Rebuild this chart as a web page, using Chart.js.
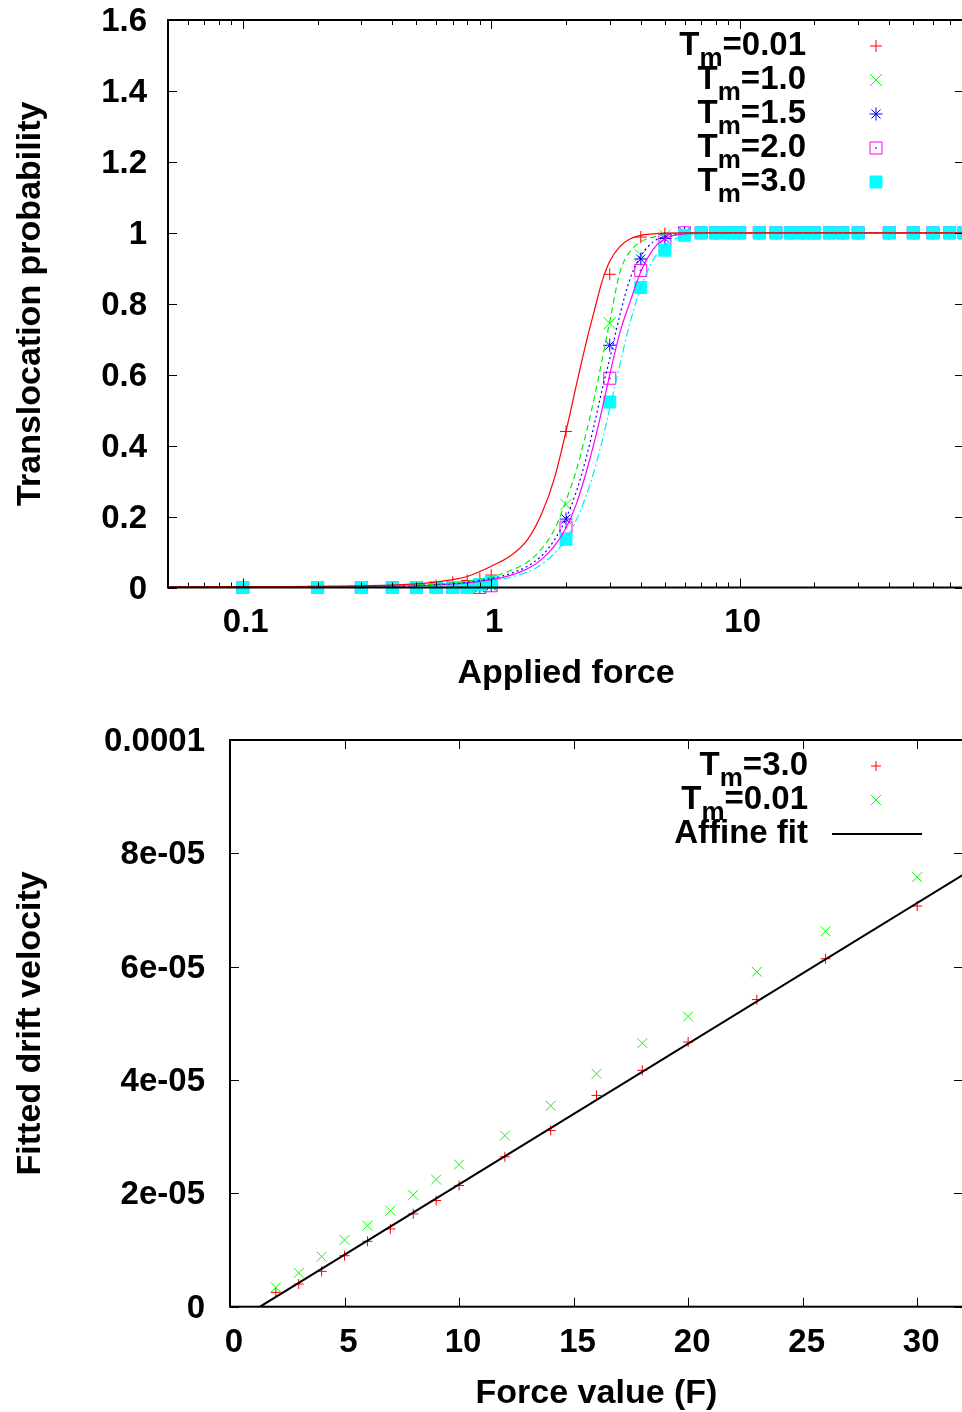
<!DOCTYPE html>
<html><head><meta charset="utf-8">
<script src="https://cdn.jsdelivr.net/npm/chart.js@4.4.0/dist/chart.umd.min.js"></script>
<style>
html,body{margin:0;padding:0;background:#fff;overflow:hidden;width:962px;height:1412px;position:relative;}
canvas{position:absolute;left:0;}
#c1{top:0;}
#c2{top:700px;}
</style></head><body>
<canvas id="c1" width="1000" height="700"></canvas>
<canvas id="c2" width="1000" height="712"></canvas>
<script>
// ---------------- DATA (top panel) ----------------
const forceTop = [0.1,0.2,0.3,0.4,0.5,0.6,0.7,0.8,0.9,1,2,3,4,5,6,7,8,9,10,12,14,16,18,20,23,26,30,40,50,60,70,80];
const probTm001 = [0,0,0,0,0,0.005,0.015,0.02,0.025,0.035,0.44,0.883,0.988,0.998,1,1,1,1,1,1,1,1,1,1,1,1,1,1,1,1,1,1];
const probTm10  = [0,0,0,0,0,0,0,0,0,0.01,0.234,0.745,0.937,0.993,1,1,1,1,1,1,1,1,1,1,1,1,1,1,1,1,1,1];
const probTm15  = [0,0,0,0,0,0,0,0,0,0.005,0.193,0.683,0.926,0.984,1,1,1,1,1,1,1,1,1,1,1,1,1,1,1,1,1,1];
const probTm20  = [0,0,0,0,0,0,0,0,0,0.005,0.17,0.59,0.894,0.979,1,1,1,1,1,1,1,1,1,1,1,1,1,1,1,1,1,1];
const probTm30  = [0,0,0,0,0,0,0,0,0.008,0.015,0.136,0.523,0.846,0.951,0.993,1,1,1,1,1,1,1,1,1,1,1,1,1,1,1,1,1];
const tmLabelsTop = ['0.01','1.0','1.5','2.0','3.0'];

// fitted curves
const curveForce = [0.05,0.3,0.5,0.7,0.8,1.0,1.2,1.4,1.6,1.8,2.0,2.2,2.4,2.6,2.8,3.0,3.3,3.6,4.0,4.5,5.0,6.0,8.0,80];
const fitTm001 = [0.002,0.005,0.01,0.022,0.031,0.06,0.09,0.135,0.21,0.31,0.44,0.57,0.685,0.78,0.865,0.92,0.962,0.982,0.993,0.997,0.999,1,1,1];
const fitTm10  = [0.002,0.004,0.007,0.013,0.018,0.03,0.048,0.072,0.11,0.165,0.245,0.33,0.43,0.535,0.645,0.75,0.89,0.945,0.975,0.988,0.995,0.999,1,1];
const fitTm15  = [0.002,0.003,0.006,0.011,0.015,0.025,0.04,0.06,0.09,0.135,0.195,0.27,0.36,0.46,0.56,0.645,0.77,0.865,0.935,0.975,0.99,0.998,1,1];
const fitTm20  = [0.002,0.003,0.005,0.01,0.013,0.022,0.035,0.053,0.08,0.118,0.168,0.235,0.32,0.41,0.505,0.6,0.72,0.8,0.89,0.955,0.983,0.997,1,1];
const fitTm30  = [0.002,0.003,0.004,0.008,0.011,0.018,0.029,0.044,0.066,0.097,0.137,0.19,0.255,0.33,0.415,0.505,0.63,0.74,0.845,0.925,0.965,0.992,1,1];

const xTopTicks = [0.1,1,10];
const xTopMinor = [0.05,0.06,0.07,0.08,0.09,0.2,0.3,0.4,0.5,0.6,0.7,0.8,0.9,2,3,4,5,6,7,8,9,20,30,40,50,60,70,80];
const yTopTicks = [0,0.2,0.4,0.6,0.8,1,1.2,1.4,1.6];
const yTopLabels = ['0','0.2','0.4','0.6','0.8','1','1.2','1.4','1.6'];

// ---------------- DATA (bottom panel) ----------------
const forceBottom = [2,3,4,5,6,7,8,9,10,12,14,16,18,20,23,26,30];
const velTm30  = [2.53e-6,4.0e-6,6.24e-6,9.0e-6,1.154e-5,1.373e-5,1.638e-5,1.873e-5,2.138e-5,2.645e-5,3.11e-5,3.728e-5,4.17e-5,4.67e-5,5.42e-5,6.14e-5,7.07e-5];
const velTm001 = [3.41e-6,5.95e-6,8.83e-6,1.178e-5,1.43e-5,1.696e-5,1.973e-5,2.244e-5,2.509e-5,3.02e-5,3.546e-5,4.11e-5,4.65e-5,5.12e-5,5.91e-5,6.625e-5,7.58e-5];
const fitForce = [1.31,32];
const fitVel = [0,7.62e-5];
const xBotTicks = [0,5,10,15,20,25,30];
const xBotLabels = ['0','5','10','15','20','25','30'];
const yBotTicks = [0,2e-5,4e-5,6e-5,8e-5,1e-4];
const yBotLabels = ['0','2e-05','4e-05','6e-05','8e-05','0.0001'];

// ---------------- helpers ----------------
const FAM = '"Liberation Sans", Arial, Helvetica, sans-serif';
Chart.defaults.font.family = FAM;
Chart.defaults.color = '#000';
const pts = (xs, ys) => xs.map((x, i) => ({x: x, y: ys[i]}));
const fixY = w => s => { s.width = w; s.paddingTop = 0; s.paddingBottom = 0; };
const fixX = h => s => { s.height = h; s.paddingLeft = 0; s.paddingRight = 0; };

const framePlugin = {
  id: 'frame',
  afterDraw(chart, args, o) {
    const ctx = chart.ctx, a = chart.chartArea;
    const xs = chart.scales.x, ys = chart.scales.y;
    ctx.save();
    ctx.strokeStyle = '#000';
    ctx.lineWidth = 1;
    const seg = (x1, y1, x2, y2) => { ctx.beginPath(); ctx.moveTo(x1, y1); ctx.lineTo(x2, y2); ctx.stroke(); };
    (o.xMajor || []).forEach(v => { const p = Math.round(xs.getPixelForValue(v)) + 0.5; seg(p, a.bottom, p, a.bottom - 9); seg(p, a.top, p, a.top + 9); });
    (o.xMinor || []).forEach(v => { const p = Math.round(xs.getPixelForValue(v)) + 0.5; seg(p, a.bottom, p, a.bottom - 5); seg(p, a.top, p, a.top + 5); });
    (o.yMajor || []).forEach(v => { const p = Math.round(ys.getPixelForValue(v)) + 0.5; seg(a.left, p, a.left + 9, p); seg(a.right, p, a.right - 9, p); });
    ctx.lineWidth = 2;
    ctx.strokeRect(a.left, a.top, a.right - a.left, a.bottom - a.top);
    ctx.restore();
  }
};

const legendPlugin = {
  id: 'tmLegend',
  afterDraw(chart, args, o) {
    const ctx = chart.ctx;
    ctx.save();
    const big = 'bold ' + o.size + 'px ' + FAM;
    const small = 'bold ' + Math.round(o.size * 0.8) + 'px ' + FAM;
    o.items.forEach((it, i) => {
      const y = o.y0 + i * o.dy;
      const base = y + o.baseOff;
      ctx.fillStyle = '#000';
      ctx.textBaseline = 'alphabetic';
      ctx.textAlign = 'left';
      if (it.sub) {
        ctx.font = big;
        const wT = ctx.measureText(it.pre).width;
        const wR = ctx.measureText(it.post).width;
        ctx.font = small;
        const wm = ctx.measureText(it.sub).width;
        const x0 = o.textRight - (wT + wm + wR);
        ctx.font = big;
        ctx.fillText(it.pre, x0, base);
        ctx.fillText(it.post, x0 + wT + wm, base);
        ctx.font = small;
        ctx.fillText(it.sub, x0 + wT, base + o.subDrop);
      } else {
        ctx.font = big;
        ctx.textAlign = 'right';
        ctx.fillText(it.text, o.textRight, base);
      }
      const ds = chart.data.datasets[it.ds];
      if (it.line) {
        ctx.strokeStyle = ds.borderColor; ctx.lineWidth = ds.borderWidth;
        ctx.beginPath(); ctx.moveTo(o.lineX0, y); ctx.lineTo(o.lineX1, y); ctx.stroke();
      } else {
        ctx.strokeStyle = ds.pointBorderColor || ds.borderColor;
        ctx.fillStyle = ds.pointBackgroundColor || 'rgba(0,0,0,0)';
        ctx.lineWidth = 1;
        Chart.helpers.drawPoint(ctx, {pointStyle: ds.pointStyle, radius: ds.pointRadius, rotation: 0, borderWidth: 1}, o.markX, y);
        if (it.dot) { ctx.fillStyle = ds.pointBorderColor; ctx.beginPath(); ctx.arc(o.markX, y, 1, 0, Math.PI * 2); ctx.fill(); }
      }
    });
    ctx.restore();
  }
};

const tickFont = {size: 33, weight: 'bold', family: FAM};
const titleFont = {size: 34, weight: 'bold', family: FAM};

// ---------------- TOP CHART ----------------
const lineDs = (label, ys, color, dash) => ({
  label: label, data: pts(curveForce, ys), showLine: true, borderColor: color, borderWidth: 1.2,
  borderDash: dash, pointRadius: 0, cubicInterpolationMode: 'monotone', fill: false, clip: 0
});
const ptDs = (label, ys, color, style, r, bg) => ({
  label: label, data: pts(forceTop, ys), showLine: false, pointStyle: style, pointRadius: r,
  pointBorderColor: color, borderColor: color, pointBackgroundColor: bg, backgroundColor: bg,
  pointBorderWidth: 1, clip: false
});

const topDatasets = [
  lineDs('fit 0.01', fitTm001, '#ff0000', []),
  lineDs('fit 1.0', fitTm10, '#00ee00', [6, 4]),
  lineDs('fit 1.5', fitTm15, '#0000ff', [2, 3]),
  lineDs('fit 2.0', fitTm20, '#ff00ff', []),
  lineDs('fit 3.0', fitTm30, '#00eeee', [8, 3, 2, 3]),
  ptDs('Tm=3.0', probTm30, '#00ffff', 'rect', 8.5, '#00ffff'),
  ptDs('Tm=2.0 dot', probTm20, '#ff00ff', 'circle', 0.8, '#ff00ff'),
  ptDs('Tm=2.0', probTm20, '#ff00ff', 'rect', 8.5, 'rgba(0,0,0,0)'),
  ptDs('Tm=1.5', probTm15, '#0000ff', 'star', 6.5, 'rgba(0,0,0,0)'),
  ptDs('Tm=1.0', probTm10, '#00ff00', 'crossRot', 8.5, 'rgba(0,0,0,0)'),
  ptDs('Tm=0.01', probTm001, '#ff0000', 'cross', 6, 'rgba(0,0,0,0)')
];

new Chart(document.getElementById('c1'), {
  type: 'scatter',
  data: {datasets: topDatasets},
  options: {
    responsive: false, animation: false, events: [],
    layout: {padding: {left: 0, top: 20, right: 36, bottom: 0}},
    plugins: {
      legend: {display: false}, tooltip: {enabled: false},
      frame: {xMajor: xTopTicks, xMinor: xTopMinor, yMajor: yTopTicks},
      tmLegend: {
        size: 33, textRight: 806, markX: 876, y0: 46, dy: 34, baseOff: 9, subDrop: 11,
        items: [
          {pre: 'T', sub: 'm', post: '=' + tmLabelsTop[0], ds: 10},
          {pre: 'T', sub: 'm', post: '=' + tmLabelsTop[1], ds: 9},
          {pre: 'T', sub: 'm', post: '=' + tmLabelsTop[2], ds: 8},
          {pre: 'T', sub: 'm', post: '=' + tmLabelsTop[3], ds: 7, dot: true},
          {pre: 'T', sub: 'm', post: '=' + tmLabelsTop[4], ds: 5}
        ]
      }
    },
    scales: {
      x: {
        type: 'logarithmic', min: 0.05, max: 80, bounds: 'data', position: 'bottom',
        afterBuildTicks: s => { s.ticks = xTopTicks.map(v => ({value: v})); },
        afterFit: fixX(112.5),
        grid: {display: false, drawTicks: false}, border: {display: false},
        ticks: {font: tickFont, color: '#000', padding: 16, labelOffset: 3, autoSkip: false, maxRotation: 0, minRotation: 0,
                callback: v => String(v)},
        title: {display: true, text: 'Applied force', font: titleFont, color: '#000', padding: {top: 0, bottom: 6}}
      },
      y: {
        type: 'linear', min: 0, max: 1.6, bounds: 'data',
        afterBuildTicks: s => { s.ticks = yTopTicks.map(v => ({value: v})); },
        afterFit: fixY(168),
        grid: {display: false, drawTicks: false}, border: {display: false},
        ticks: {font: tickFont, color: '#000', padding: 21, labelOffset: 2, autoSkip: false,
                callback: (v, i) => yTopLabels[i]},
        title: {display: true, text: 'Translocation probability', font: titleFont, color: '#000', padding: {top: 10, bottom: 0}}
      }
    }
  },
  plugins: [framePlugin, legendPlugin]
});

// ---------------- BOTTOM CHART ----------------
const botDatasets = [
  {label: 'Affine fit', data: pts(fitForce, fitVel), showLine: true, borderColor: '#000', borderWidth: 2,
   pointRadius: 0, fill: false},
  {label: 'Tm=0.01', data: pts(forceBottom, velTm001), showLine: false, pointStyle: 'crossRot', pointRadius: 7,
   pointBorderColor: '#00ff00', borderColor: '#00ff00', pointBorderWidth: 1, clip: false},
  {label: 'Tm=3.0', data: pts(forceBottom, velTm30), showLine: false, pointStyle: 'cross', pointRadius: 5,
   pointBorderColor: '#ff0000', borderColor: '#ff0000', pointBorderWidth: 1, clip: false}
];

new Chart(document.getElementById('c2'), {
  type: 'scatter',
  data: {datasets: botDatasets},
  options: {
    responsive: false, animation: false, events: [],
    layout: {padding: {left: 0, top: 40, right: 37, bottom: 0}},
    plugins: {
      legend: {display: false}, tooltip: {enabled: false},
      frame: {xMajor: xBotTicks, yMajor: yBotTicks},
      tmLegend: {
        size: 33, textRight: 808, markX: 876, y0: 66, dy: 34, baseOff: 9, subDrop: 11, lineX0: 832, lineX1: 922,
        items: [
          {pre: 'T', sub: 'm', post: '=3.0', ds: 2},
          {pre: 'T', sub: 'm', post: '=0.01', ds: 1},
          {text: 'Affine fit', ds: 0, line: true}
        ]
      }
    },
    scales: {
      x: {
        type: 'linear', min: 0, max: 32, bounds: 'data', position: 'bottom',
        afterBuildTicks: s => { s.ticks = xBotTicks.map(v => ({value: v})); },
        afterFit: fixX(105.3),
        grid: {display: false, drawTicks: false}, border: {display: false},
        ticks: {font: tickFont, color: '#000', padding: 16, labelOffset: 4, autoSkip: false, maxRotation: 0, minRotation: 0,
                callback: (v, i) => xBotLabels[i]},
        title: {display: true, text: 'Force value (F)', font: titleFont, color: '#000', padding: {top: 0, bottom: -2}}
      },
      y: {
        type: 'linear', min: 0, max: 1e-4, bounds: 'data',
        afterBuildTicks: s => { s.ticks = yBotTicks.map(v => ({value: v})); },
        afterFit: fixY(230),
        grid: {display: false, drawTicks: false}, border: {display: false},
        ticks: {font: tickFont, color: '#000', padding: 25, labelOffset: 2, autoSkip: false,
                callback: (v, i) => yBotLabels[i]},
        title: {display: true, text: 'Fitted drift velocity', font: titleFont, color: '#000', padding: {top: 10, bottom: 0}}
      }
    }
  },
  plugins: [framePlugin, legendPlugin]
});
</script>
</body></html>
